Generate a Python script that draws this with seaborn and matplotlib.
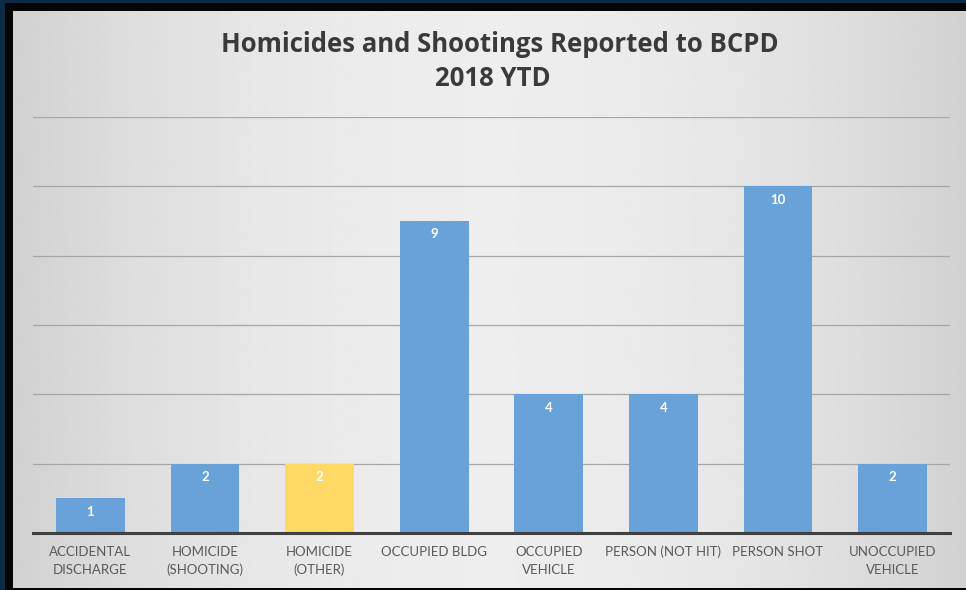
import numpy as np
import pandas as pd
import matplotlib
matplotlib.use("Agg")
import matplotlib.pyplot as plt
import seaborn as sns
from matplotlib.patches import Rectangle

# chart data
categories = ["ACCIDENTAL\nDISCHARGE", "HOMICIDE\n(SHOOTING)", "HOMICIDE\n(OTHER)",
              "OCCUPIED BLDG", "OCCUPIED\nVEHICLE", "PERSON (NOT HIT)",
              "PERSON SHOT", "UNOCCUPIED\nVEHICLE"]
counts = [1, 2, 2, 9, 4, 4, 10, 2]
bar_colors = ["#68a2d8", "#68a2d8", "#ffd966", "#68a2d8",
              "#68a2d8", "#68a2d8", "#68a2d8", "#68a2d8"]
y_ticks = [0, 2, 4, 6, 8, 10, 12]

df = pd.DataFrame({"category": categories, "count": counts})

sns.set_theme(style="white")
plt.rcParams["font.family"] = ["Lato", "DejaVu Sans"]

W, H = 966, 590
fig = plt.figure(figsize=(W / 100, H / 100), dpi=100)
fig.patch.set_facecolor("#0b2b47")

# black inner frame and gray gradient panel
fig.patches.append(Rectangle((5 / W, 0), 1, 1 - 3 / H, transform=fig.transFigure,
                             facecolor="#050505", edgecolor="none", zorder=-5))
bg = fig.add_axes([13 / W, 2 / H, 1 - 13 / W, 1 - 13 / H], zorder=-1)
xs = np.linspace(-1, 1, 400)
shade = 0.93 - 0.11 * xs ** 2
grad = np.tile(shade, (10, 1))
bg.imshow(grad, cmap="gray", vmin=0, vmax=1, aspect="auto", extent=[0, 1, 0, 1])
bg.set_axis_off()

# main axes
left, right, bottom, top = 33, 950, 533, 117
ax = fig.add_axes([left / W, 1 - bottom / H, (right - left) / W, (bottom - top) / H], zorder=1)
ax.patch.set_alpha(0)

sns.barplot(data=df, x="category", y="count", hue="category", palette=bar_colors,
            legend=False, width=0.6, saturation=1, linewidth=0, ax=ax, zorder=3)

ax.set_ylim(0, 12)
ax.set_yticks(y_ticks)
ax.set_yticklabels([])
ax.tick_params(axis="y", length=0)
ax.tick_params(axis="x", length=0, labelsize=9.5, labelcolor="#595959", pad=9)
for lbl in ax.get_xticklabels():
    lbl.set_linespacing(1.6)
ax.grid(axis="y", color="#a6a6a6", linewidth=0.9, zorder=0)
for s in ["top", "right", "left"]:
    ax.spines[s].set_visible(False)
ax.spines["bottom"].set_color("#404040")
ax.spines["bottom"].set_linewidth(2.2)
ax.spines["bottom"].set_zorder(4)
ax.set_xlabel("")
ax.set_ylabel("")

for i, v in enumerate(counts):
    ax.text(i, v - 0.38, str(v), ha="center", va="center", color="white",
            fontsize=9.5, fontweight="bold", zorder=5)

title_font = ["Open Sans", "DejaVu Sans"]
fig.text(500 / W, 1 - 45 / H, "Homicides and Shootings Reported to BCPD", family=title_font,
         ha="center", va="center", fontsize=18.5, fontweight="bold", color="#3a3a3a")
fig.text(493 / W, 1 - 78 / H, "2018 YTD", family=title_font,
         ha="center", va="center", fontsize=18.5, fontweight="bold", color="#3a3a3a")

fig.savefig("out.png", dpi=100, facecolor=fig.get_facecolor())
